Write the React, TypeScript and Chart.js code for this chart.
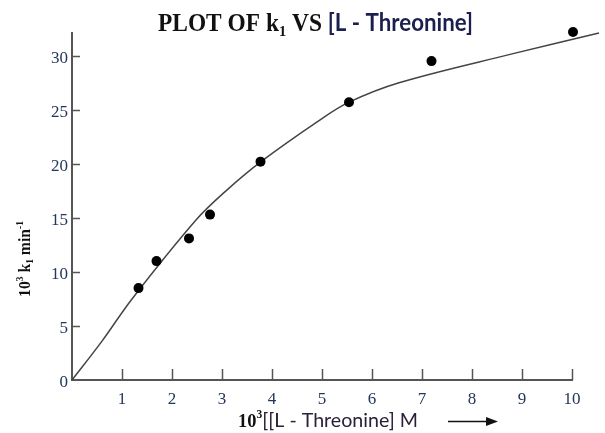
import React, { useEffect, useRef } from 'react';
import { Chart, registerables } from 'chart.js';

Chart.register(...registerables);

// Measured points (10^3 [L-Threonine] M  vs  10^3 k1 min^-1)
const pointsX = [1.33, 1.69, 2.34, 2.76, 3.77, 5.54, 7.19, 10.02];
const pointsY = [8.5, 11.0, 13.1, 15.3, 20.2, 25.7, 29.5, 32.2];

// Hand-drawn fitted curve
const curveX = [0, 0.6, 1.2, 2.48, 3.08, 3.78, 4.94, 5.54, 6.54, 8.74, 10.54];
const curveY = [0, 3.6, 7.5, 14.8, 17.5, 20.2, 24.0, 25.7, 27.5, 30.1, 32.1];

const xTickValues = [0, 1, 2, 3, 4, 5, 6, 7, 8, 9, 10];
const yTickValues = [0, 5, 10, 15, 20, 25, 30];

const titleParts = ['PLOT OF k', '1', ' VS ', '[L - Threonine]'];
const yTitleParts = ['10', '3', ' k', '1', ' min', '-1'];
const xTitleParts = ['10', '3', '[[L - Threonine] M'];

const SERIF = '"Liberation Serif", "Times New Roman", serif';
const SANS = 'Lato, "Open Sans", sans-serif';
const LABEL_COLOR = '#24365a';
const AXIS_COLOR = '#555555';

type Part = { t: string; font: string; color: string; dy: number };

function drawRich(
  ctx: CanvasRenderingContext2D,
  parts: Part[],
  x: number,
  y: number,
  targetW: number,
  vs: number,
  angle = 0
) {
  ctx.save();
  ctx.translate(x, y);
  if (angle) ctx.rotate(angle);
  ctx.textBaseline = 'alphabetic';
  ctx.textAlign = 'left';
  const widths = parts.map((p) => {
    ctx.font = p.font;
    return ctx.measureText(p.t).width;
  });
  const total = widths.reduce((a, b) => a + b, 0);
  const sx = targetW ? targetW / total : 1;
  ctx.scale(sx, vs);
  let cx = 0;
  parts.forEach((p, i) => {
    ctx.font = p.font;
    ctx.fillStyle = p.color;
    ctx.fillText(p.t, cx, p.dy);
    cx += widths[i];
  });
  ctx.restore();
}

const decorPlugin = {
  id: 'decor',
  afterDraw(chart: any) {
    const ctx: CanvasRenderingContext2D = chart.ctx;
    const xs = chart.scales.x;
    const ys = chart.scales.y;
    const area = chart.chartArea;

    // inward tick marks
    ctx.save();
    ctx.strokeStyle = AXIS_COLOR;
    ctx.lineWidth = 1.5;
    ctx.beginPath();
    xTickValues.forEach((v) => {
      if (v === 0) return;
      const px = Math.round(xs.getPixelForValue(v)) + 0.5;
      ctx.moveTo(px, area.bottom);
      ctx.lineTo(px, area.bottom - 11);
    });
    yTickValues.forEach((v) => {
      if (v === 0) return;
      const py = Math.round(ys.getPixelForValue(v)) + 0.5;
      ctx.moveTo(area.left, py);
      ctx.lineTo(area.left + 8, py);
    });
    ctx.stroke();
    ctx.restore();

    // Title
    drawRich(
      ctx,
      [
        { t: titleParts[0], font: `bold 21px ${SERIF}`, color: '#111111', dy: 0 },
        { t: titleParts[1], font: `bold 13px ${SERIF}`, color: '#111111', dy: 4 },
        { t: titleParts[2], font: `bold 21px ${SERIF}`, color: '#111111', dy: 0 },
        { t: titleParts[3], font: `bold 20px ${SANS}`, color: '#1b1f4d', dy: 0 },
      ],
      158,
      31,
      315,
      1.2
    );

    // Y axis title (rotated)
    drawRich(
      ctx,
      [
        { t: yTitleParts[0], font: `bold 15px ${SERIF}`, color: '#111111', dy: 0 },
        { t: yTitleParts[1], font: `bold 9px ${SERIF}`, color: '#111111', dy: -6 },
        { t: yTitleParts[2], font: `bold 15px ${SERIF}`, color: '#111111', dy: 0 },
        { t: yTitleParts[3], font: `bold 9px ${SERIF}`, color: '#111111', dy: 3 },
        { t: yTitleParts[4], font: `bold 15px ${SERIF}`, color: '#111111', dy: 0 },
        { t: yTitleParts[5], font: `bold 9px ${SERIF}`, color: '#111111', dy: -6 },
      ],
      30,
      297,
      76,
      1.1,
      -Math.PI / 2
    );

    // X axis title
    drawRich(
      ctx,
      [
        { t: xTitleParts[0], font: `bold 16px ${SERIF}`, color: '#111111', dy: 0 },
        { t: xTitleParts[1], font: `bold 10px ${SERIF}`, color: '#111111', dy: -7 },
        { t: xTitleParts[2], font: `17px ${SANS}`, color: '#2a2038', dy: 0 },
      ],
      238,
      426.5,
      180,
      1.15
    );

    // arrow
    ctx.save();
    ctx.strokeStyle = '#111111';
    ctx.fillStyle = '#111111';
    ctx.lineWidth = 1.5;
    ctx.beginPath();
    ctx.moveTo(448, 421.5);
    ctx.lineTo(490, 421.5);
    ctx.stroke();
    ctx.beginPath();
    ctx.moveTo(498, 421.5);
    ctx.lineTo(486, 417);
    ctx.lineTo(486, 426);
    ctx.closePath();
    ctx.fill();
    ctx.restore();
  },
};

export default function App() {
  const ref = useRef<HTMLCanvasElement>(null);

  useEffect(() => {
    if (!ref.current) return;
    const chart = new Chart(ref.current, {
      type: 'scatter',
      data: {
        datasets: [
          {
            label: 'Measured',
            data: pointsX.map((x, i) => ({ x, y: pointsY[i] })),
            pointRadius: 5,
            pointBackgroundColor: '#000000',
            pointBorderColor: '#000000',
            pointBorderWidth: 0,
            showLine: false,
            clip: false as any,
          },
          {
            label: 'Curve',
            data: curveX.map((x, i) => ({ x, y: curveY[i] })),
            showLine: true,
            pointRadius: 0,
            borderColor: '#444444',
            borderWidth: 1.5,
            tension: 0.35,
            fill: false,
            clip: false as any,
          },
        ],
      },
      options: {
        responsive: false,
        animation: false,
        devicePixelRatio: 1,
        events: [],
        layout: { padding: { top: 33, right: 33, left: 0, bottom: 0 } },
        plugins: {
          legend: { display: false },
          tooltip: { enabled: false },
          title: { display: false },
        },
        scales: {
          x: {
            type: 'linear',
            min: 0,
            max: 10,
            afterBuildTicks: (scale: any) => {
              scale.ticks = xTickValues.map((v) => ({ value: v }));
            },
            afterFit: (scale: any) => {
              scale.height = 53;
            },
            grid: { display: true, drawOnChartArea: false, drawTicks: false },
            border: { display: true, color: AXIS_COLOR, width: 2 },
            ticks: {
              padding: 9,
              color: LABEL_COLOR,
              font: { family: SERIF, size: 17 },
              maxRotation: 0,
              autoSkip: false,
              callback: (v: any) => (v === 0 ? '' : String(v)),
            },
          },
          y: {
            type: 'linear',
            min: 0,
            max: 32.1,
            afterBuildTicks: (scale: any) => {
              scale.ticks = yTickValues.map((v) => ({ value: v }));
            },
            afterFit: (scale: any) => {
              scale.width = 72;
            },
            grid: { display: true, drawOnChartArea: false, drawTicks: false },
            border: { display: true, color: AXIS_COLOR, width: 2 },
            ticks: {
              padding: 4,
              labelOffset: 3,
              color: LABEL_COLOR,
              font: { family: SERIF, size: 17 },
              autoSkip: false,
              callback: (v: any) => String(v),
            },
          },
        },
      },
      plugins: [decorPlugin],
    } as any);
    return () => chart.destroy();
  }, []);

  return (
    <canvas
      ref={ref}
      width={605}
      height={433}
      style={{ position: 'absolute', left: 0, top: 0, width: 605, height: 433, display: 'block' }}
    />
  );
}
